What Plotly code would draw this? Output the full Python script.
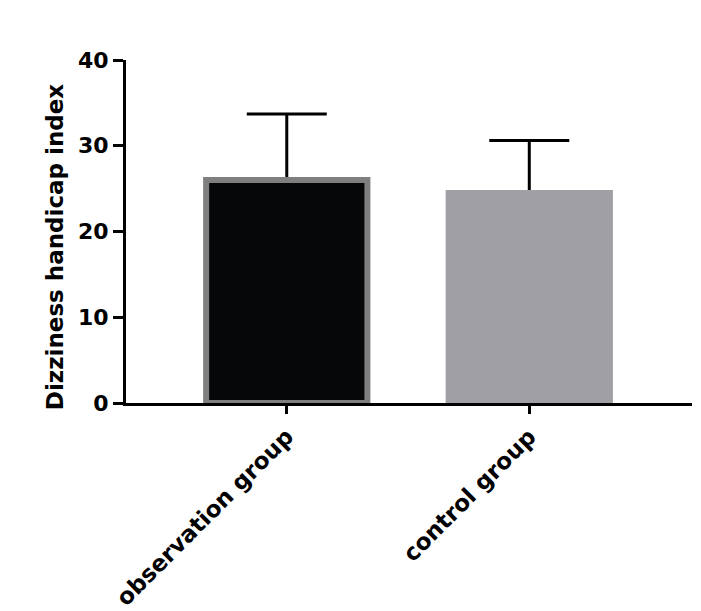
import plotly.graph_objects as go

groups = ["observation group", "control group"]
means = [26.0, 24.5]
sd = [7.7, 6.1]
fills = ["#060708", "#a0a0a4"]
outlines = ["#7f7f7f", "#a0a0a4"]
y_title = "Dizziness handicap index"

fig = go.Figure()
# error bars first (symmetric), so the real bars cover the lower half
fig.add_trace(go.Bar(
    x=groups, y=means, width=0.665,
    marker=dict(color="rgba(0,0,0,0)", line=dict(width=0)),
    error_y=dict(type="data", array=sd, color="black", thickness=3, width=40),
    hoverinfo="skip",
))
fig.add_trace(go.Bar(
    x=groups, y=means, width=0.665,
    marker=dict(color=fills, line=dict(color=outlines, width=6)),
))

font = "DejaVu Sans, Verdana, sans-serif"
fig.update_layout(
    width=701, height=611,
    margin=dict(l=118, r=17, t=52, b=216),
    plot_bgcolor="white", paper_bgcolor="white",
    showlegend=False, barmode="overlay",
    font=dict(family=font, color="black"),
)
fig.update_xaxes(
    range=[-0.663, 1.671], automargin=False,
    showline=True, linecolor="black", linewidth=3,
    ticks="outside", ticklen=8, tickwidth=3, tickcolor="black",
    tickangle=-45,
    tickfont=dict(size=23, family=font, weight="bold"),
)
fig.update_yaxes(
    range=[0, 40], dtick=10, automargin=False,
    showline=True, linecolor="black", linewidth=3, showgrid=False, zeroline=False,
    ticks="outside", ticklen=10, tickwidth=3, tickcolor="black",
    tickfont=dict(size=22, family=font, weight="bold"),
)
# axis title sits a little below the centre of the axis in the original
fig.add_annotation(
    text=y_title, textangle=-90, showarrow=False,
    xref="paper", yref="paper", x=-0.125, y=0.455,
    xanchor="center", yanchor="middle",
    font=dict(size=23, family=font, weight="bold"),
)

fig.write_html("out.html")
